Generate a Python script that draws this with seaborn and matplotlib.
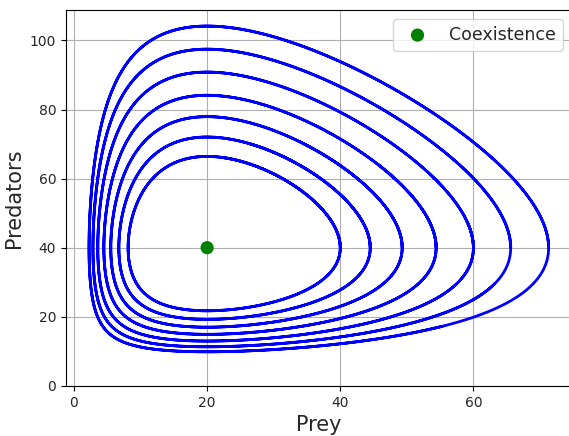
import numpy as np
import pandas as pd
import matplotlib
matplotlib.use("Agg")
import matplotlib.pyplot as plt
import seaborn as sns

# Lotka-Volterra model: prey growth, predation, predator death, conversion
alpha, beta, gamma, delta = 1.0, 0.025, 0.5, 0.025
# coexistence equilibrium (gamma/delta, alpha/beta)
coexist_prey = [20.0]
coexist_pred = [40.0]
# starting prey levels, each with predators at 40
start_prey = [40.0, 44.5, 49.3, 54.4, 60.0, 65.6, 71.3]
start_pred = 40.0


def rhs(s):
    x, y = s
    return np.array([alpha * x - beta * x * y, -gamma * y + delta * x * y])


def orbit(x0, y0, t_end=20.0, dt=0.005):
    s = np.array([x0, y0], dtype=float)
    out = [s.copy()]
    for _ in range(int(t_end / dt)):
        k1 = rhs(s)
        k2 = rhs(s + 0.5 * dt * k1)
        k3 = rhs(s + 0.5 * dt * k2)
        k4 = rhs(s + dt * k3)
        s = s + dt / 6.0 * (k1 + 2 * k2 + 2 * k3 + k4)
        out.append(s.copy())
    return np.array(out)


frames = []
for i, x0 in enumerate(start_prey):
    traj = orbit(x0, start_pred)
    frames.append(pd.DataFrame({"Prey": traj[:, 0], "Predators": traj[:, 1],
                                "run": i, "step": np.arange(len(traj))}))
df = pd.concat(frames, ignore_index=True)

sns.set_theme(style="ticks")
plt.rcParams["font.family"] = ["DejaVu Sans"]

fig, ax = plt.subplots(figsize=(5.69, 4.36), dpi=100)
fig.subplots_adjust(left=0.116, right=1.004, bottom=0.115, top=0.977)

for i in range(len(start_prey)):
    sub = df[df["run"] == i]
    sns.lineplot(data=sub, x="Prey", y="Predators", sort=False, estimator=None,
                 color="blue", linewidth=2.0, ax=ax)

sns.scatterplot(x=coexist_prey, y=coexist_pred, color="green", s=90,
                edgecolor="none", label="Coexistence", ax=ax, zorder=5)

ax.set_xlim(-1.2, 74.7)
ax.set_ylim(0, 108.8)
ax.set_xticks([0, 20, 40, 60])
ax.set_yticks([0, 20, 40, 60, 80, 100])
ax.grid(True, color="#b0b0b0", linewidth=0.8)
ax.set_axisbelow(True)
ax.set_xlabel("Prey", fontsize=15)
ax.set_ylabel("Predators", fontsize=15)
ax.tick_params(labelsize=10, direction="out", length=3.5, width=0.8, color="black")
for sp in ax.spines.values():
    sp.set_color("black")
    sp.set_linewidth(0.8)
ax.legend(loc="upper right", fontsize=12.5, frameon=True)

fig.savefig("out.png", dpi=100)
